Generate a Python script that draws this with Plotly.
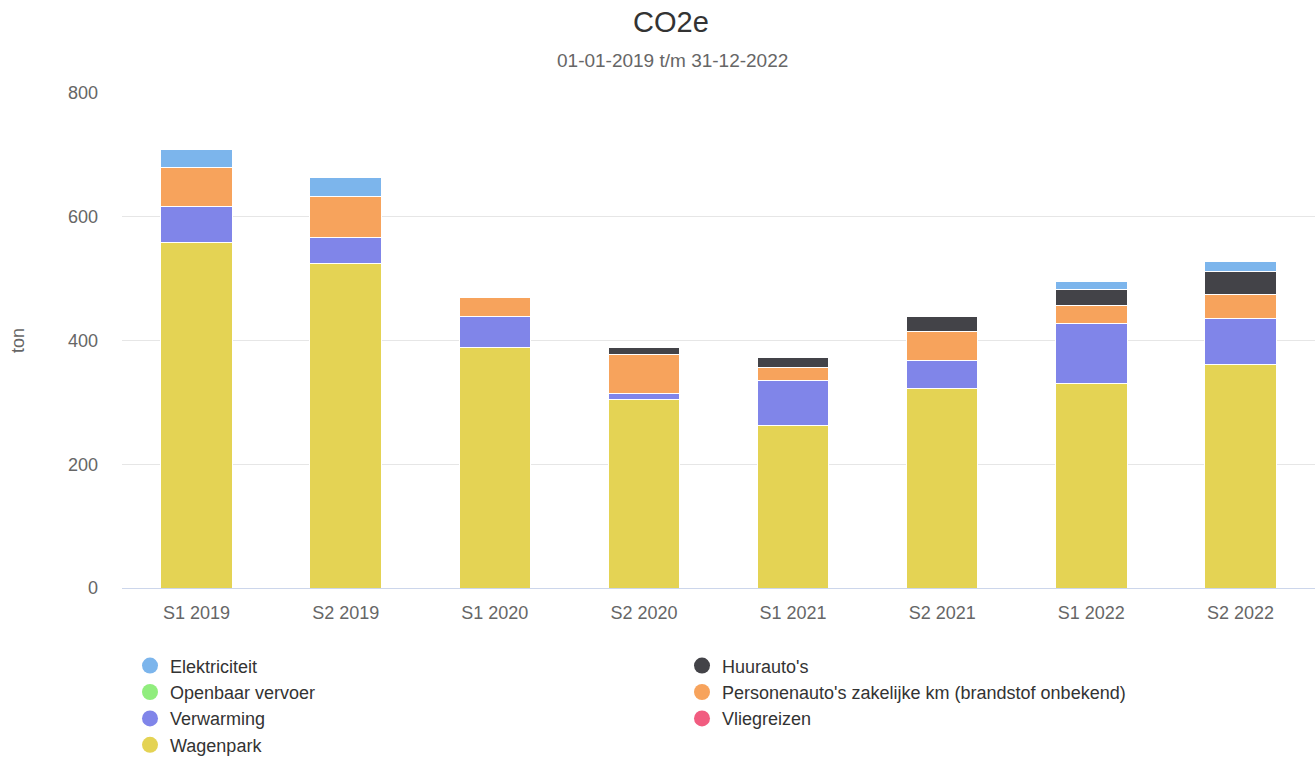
import plotly.graph_objects as go

categories = ["S1 2019", "S2 2019", "S1 2020", "S2 2020", "S1 2021", "S2 2021", "S1 2022", "S2 2022"]

wagenpark = [559, 525, 388, 304, 262, 323, 330, 362]
vliegreizen = [0, 0, 0, 0, 0, 0, 0, 0]
verwarming = [57, 41, 50, 10, 73, 45, 98, 74]
personenautos = [63, 66, 31, 64, 22, 47, 28, 39]
openbaar_vervoer = [0, 0, 0, 0, 0, 0, 0, 0]
huurautos = [0, 0, 0, 10, 16, 23, 26, 36]
elektriciteit = [30, 31, 0, 0, 0, 0, 14, 16]

y_ticks = [0, 200, 400, 600, 800]

# stacking order bottom -> top
series = [
    ("Wagenpark", wagenpark, "#e4d354"),
    ("Vliegreizen", vliegreizen, "#f15c80"),
    ("Verwarming", verwarming, "#8085e9"),
    ("Personenauto's zakelijke km (brandstof onbekend)", personenautos, "#f7a35c"),
    ("Openbaar vervoer", openbaar_vervoer, "#90ed7d"),
    ("Huurauto's", huurautos, "#434348"),
    ("Elektriciteit", elektriciteit, "#7cb5ec"),
]
colors = {name: c for name, _, c in series}

fig = go.Figure()
for name, vals, col in series:
    fig.add_trace(go.Bar(
        x=categories, y=vals, name=name, showlegend=False,
        marker=dict(color=col, line=dict(color="white", width=1)),
        width=0.48,
    ))

left_col = ["Elektriciteit", "Openbaar vervoer", "Verwarming", "Wagenpark"]
right_col = ["Huurauto's", "Personenauto's zakelijke km (brandstof onbekend)", "Vliegreizen"]
for names, lg in ((left_col, "legend"), (right_col, "legend2")):
    for n in names:
        fig.add_trace(go.Scatter(
            x=[None], y=[None], mode="markers", name=n, legend=lg,
            legendgroup=n,
            marker=dict(color=colors[n], size=19, symbol="circle"),
            showlegend=True,
        ))

font_family = "Liberation Sans, Arial, Helvetica, sans-serif"
legend_common = dict(
    orientation="v", traceorder="normal", yanchor="top", xanchor="left",
    font=dict(size=18, color="#333333", family=font_family),
    bgcolor="rgba(0,0,0,0)", itemclick=False, tracegroupgap=2,
)

H = 766
fig.update_layout(
    width=1315, height=H,
    barmode="stack",
    bargap=0.52,
    paper_bgcolor="white", plot_bgcolor="white",
    font=dict(family=font_family, size=18, color="#666666"),
    margin=dict(l=122, r=0, t=93, b=H - 588),
    title=dict(text="CO2e", x=671 / 1315, xanchor="center", y=1 - 22 / H, yanchor="middle",
               font=dict(size=29, color="#333333")),
    annotations=[dict(text="01-01-2019 t/m 31-12-2022", xref="paper", yref="paper",
                      x=(672 - 122) / 1193, y=(588 - 60) / 495, xanchor="center", yanchor="middle",
                      showarrow=False, font=dict(size=19, color="#666666"))],
    xaxis=dict(showline=True, linecolor="#ccd6eb", linewidth=1, showgrid=False,
               tickfont=dict(size=18, color="#666666"), ticks="", ticklen=0,
               ticklabelstandoff=8),
    yaxis=dict(range=[0, 800], tickvals=y_ticks, showgrid=True, gridcolor="#e6e6e6",
               zeroline=False, tickfont=dict(size=18, color="#666666"), ticks="",
               ticklabelstandoff=23,
               title=dict(text="ton", font=dict(size=18, color="#666666"), standoff=38)),
    legend=dict(x=(130 - 122) / 1193, y=-0.12, **legend_common),
    legend2=dict(x=(682 - 122) / 1193, y=-0.12, **legend_common),
)

fig.write_html("out.html", config={"displayModeBar": False},
               post_script="document.body.style.margin='0';")
